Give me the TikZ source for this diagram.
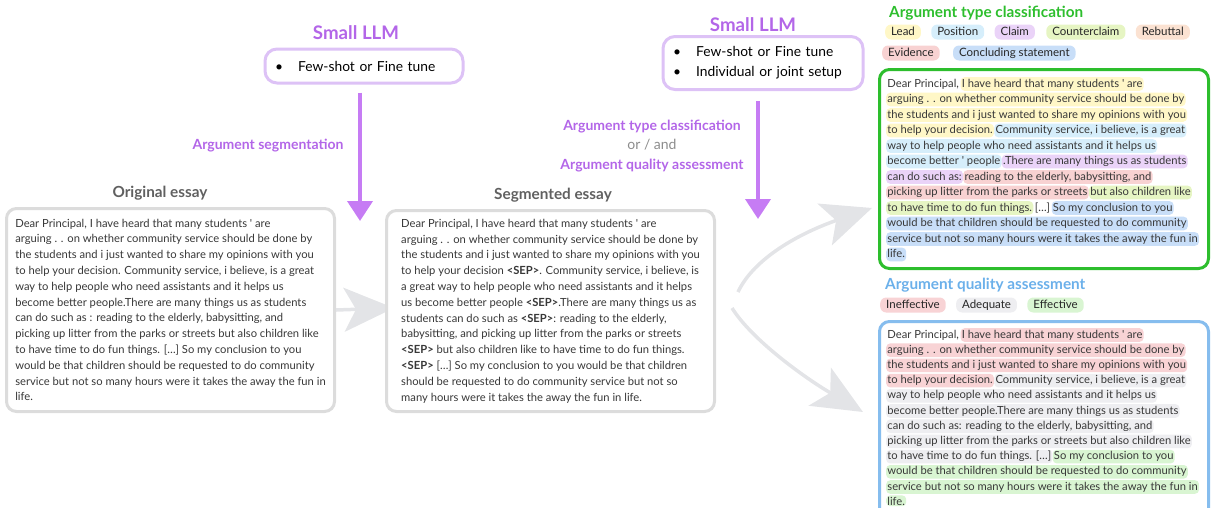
\documentclass[tikz,border=0pt]{standalone}
\usepackage{fontspec}
\setmainfont{Lato}
\usetikzlibrary{positioning,arrows.meta,calc}
\definecolor{llmtext}{HTML}{B366E8}
\definecolor{llmarrow}{HTML}{C67CF4}
\definecolor{llmframe}{HTML}{DDC2F6}
\definecolor{essaygray}{HTML}{DCDCDC}
\definecolor{titlegray}{HTML}{606060}
\definecolor{flowgray}{HTML}{E3E4E7}
\definecolor{typegreen}{HTML}{2DBE2D}
\definecolor{qualblue}{HTML}{6BB0EA}
\definecolor{qualframe}{HTML}{86BDEE}
\definecolor{inktext}{HTML}{383838}
\definecolor{lead}{HTML}{FFF7C7}
\definecolor{position}{HTML}{D6EEFB}
\definecolor{claim}{HTML}{EAD3F8}
\definecolor{counter}{HTML}{E6F5C3}
\definecolor{rebuttal}{HTML}{FBE2D2}
\definecolor{evid}{HTML}{F8D2D2}
\definecolor{concl}{HTML}{C8DEF8}
\definecolor{ineff}{HTML}{F8D3D5}
\definecolor{adeq}{HTML}{EEEEF1}
\definecolor{eff}{HTML}{D9F5D2}

\begin{document}
\begin{tikzpicture}[x=1pt,y=-1pt,
  every node/.style={font=\fontsize{11.2}{15.8}\selectfont,text=inktext,inner sep=0pt},
  llmtitle/.style={font=\fontsize{18.7}{20}\selectfont\bfseries,text=llmtext},
  llmbox/.style={draw=llmframe,line width=3pt,rounded corners=12pt,fill=white,
                 align=left,font=\fontsize{13.8}{20}\selectfont,text=black,inner xsep=10pt},
  tasklabel/.style={font=\fontsize{14}{19.5}\selectfont\bfseries,text=llmtext,align=center},
  essaytitle/.style={font=\fontsize{15.3}{16}\selectfont\bfseries,text=titlegray},
  essay/.style={draw=essaygray,line width=3pt,rounded corners=10pt,fill=white,
                align=left,anchor=north west},
  hlbox/.style={line width=3pt,rounded corners=10pt,fill=white,anchor=north west},
  seg/.style={anchor=base west,inner xsep=1.2pt,inner ysep=0pt,text height=9.8pt,
              text depth=3.8pt,rounded corners=4pt},
  chip/.style={rounded corners=6pt,inner xsep=6pt,inner ysep=1.5pt,text height=9pt,
               text depth=3pt,text=black!85,font=\fontsize{11.5}{14}\selectfont},
  llmarr/.style={-{Triangle[length=20pt,width=25pt]},line width=4pt,draw=llmarrow},
  flowarr/.style={-{Stealth[length=50pt,width=44pt,inset=12pt]},line width=3.5pt,draw=flowgray},
]
\useasboundingbox (0,0) rectangle (1213,507);
\clip (0,0) rectangle (1213,507);

% segmentation step
\node[llmtitle] (llmLtitle) at (356,33) {Small LLM};
\node[llmbox,text width=178pt,minimum height=34pt] (llmL) at (364,66)
  {\textbullet\hspace{1.1em}Few-shot or Fine tune};
\coordinate (segend) at (360,221);
\draw[llmarr,shorten <=8pt] (llmL.south -| segend) -- (segend);
\node[tasklabel] (seglabel) at (268,146) {Argument segmentation};

\node[essaytitle] (origtitle) at (160,193) {Original essay};
\node[essay,minimum width=328pt,minimum height=203pt] (orig) at (5,207) {%
Dear Principal, I have heard that many students \textquotesingle{} are\\
arguing . . on whether community service should be done by\\
the students and i just wanted to share my opinions with you\\
to help your decision. Community service, i believe, is a great\\
way to help people who need assistants and it helps us\\
become better people.There are many things us as students\\
can do such as : reading to the elderly, babysitting, and\\
picking up litter from the parks or streets but also children like\\
to have time to do fun things. […] So my conclusion to you\\
would be that children should be requested to do community\\
service but not so many hours were it takes the away the fun in\\
life.};

\coordinate (midtip) at (394,308);
\draw[flowarr] (orig.east) -- (midtip);

\node[essaytitle] (segtitle) at (553,195) {Segmented essay};
\node[essay,minimum width=328pt,minimum height=201pt] (segd) at (385,209) {%
Dear Principal, I have heard that many students \textquotesingle{} are\\
arguing . . on whether community service should be done by\\
the students and i just wanted to share my opinions with you\\
to help your decision \textbf{<SEP>}. Community service, i believe, is\\
a great way to help people who need assistants and it helps\\
us become better people \textbf{<SEP>}.There are many things us as\\
students can do such as \textbf{<SEP>}: reading to the elderly,\\
babysitting, and picking up litter from the parks or streets\\
\textbf{<SEP>} but also children like to have time to do fun things.\\
\textbf{<SEP>} […] So my conclusion to you would be that children\\
should be requested to do community service but not so\\
many hours were it takes the away the fun in life.};

% classification / quality step
\node[llmtitle] (llmRtitle) at (753,25) {Small LLM};
\node[llmbox,text width=180pt,minimum height=53pt] (llmR) at (763,63)
  {\textbullet\hspace{1.1em}Few-shot or Fine tune\\
   \textbullet\hspace{1.1em}Individual or joint setup};
\coordinate (clsend) at (758,219);
\draw[llmarr,shorten <=10pt] (llmR.south -| clsend) -- (clsend);
\node[tasklabel] (clslabel) at (652,146)
  {Argument type classification\\{\mdseries\color{black!45}or / and}\\Argument quality assessment};

\coordinate (forkup) at (738,292);
\coordinate (forkdown) at (732,308);
\coordinate (typetip) at (872,208);
\coordinate (qualtip) at (863,412);
\draw[flowarr] (forkup) .. controls (754,258) and (800,233) .. (typetip);
\draw[flowarr] (forkdown) .. controls (752,340) and (805,378) .. (qualtip);

% argument types
\node[anchor=west,font=\fontsize{15.3}{18}\selectfont\bfseries,text=typegreen] (typetitle) at (889,13) {Argument type classification};
\node[chip,fill=lead,anchor=west] (kLead) at (885,32) {Lead};
\node[chip,fill=position,right=10pt of kLead] (kPos) {Position};
\node[chip,fill=claim,right=10pt of kPos] (kClaim) {Claim};
\node[chip,fill=counter,right=11pt of kClaim] (kCounter) {Counterclaim};
\node[chip,fill=rebuttal,right=10pt of kCounter] (kReb) {Rebuttal};
\node[chip,fill=evid,anchor=west] (kEvid) at (882,53) {Evidence};
\node[chip,fill=concl,right=13pt of kEvid] (kConcl) {Concluding statement};

\node[hlbox,draw=typegreen,minimum width=329pt,minimum height=199pt] (typebox) at (878,68) {};
\node[seg] (ty1a) at (886,87) {Dear Principal,};
\node[seg,fill=lead] (ty1b) at (ty1a.base east) {I have heard that many students \textquotesingle{} are};
\node[seg,fill=lead] (ty2a) at (886,102.5) {arguing . . on whether community service should be done by};
\node[seg,fill=lead] (ty3a) at (886,118) {the students and i just wanted to share my opinions with you};
\node[seg,fill=lead] (ty4a) at (886,133.5) {to help your decision.};
\node[seg,fill=position] (ty4b) at (ty4a.base east) {Community service, i believe, is a great};
\node[seg,fill=position] (ty5a) at (886,149) {way to help people who need assistants and it helps us};
\node[seg,fill=position] (ty6a) at (886,164.5) {become better \textquotesingle{} people};
\node[seg,fill=claim] (ty6b) at (ty6a.base east) {.There are many things us as students};
\node[seg,fill=claim] (ty7a) at (886,180) {can do such as:};
\node[seg,fill=evid] (ty7b) at (ty7a.base east) {reading to the elderly, babysitting, and};
\node[seg,fill=evid] (ty8a) at (886,195.5) {picking up litter from the parks or streets};
\node[seg,fill=counter] (ty8b) at (ty8a.base east) {but also children like};
\node[seg,fill=counter] (ty9a) at (886,211) {to have time to do fun things.};
\node[seg] (ty9b) at (ty9a.base east) {[…]};
\node[seg,fill=concl] (ty9c) at (ty9b.base east) {So my conclusion to you};
\node[seg,fill=concl] (ty10a) at (886,226.5) {would be that children should be requested to do community};
\node[seg,fill=concl] (ty11a) at (886,242) {service but not so many hours were it takes the away the fun in};
\node[seg,fill=concl] (ty12a) at (886,257.5) {life.};

% argument quality
\node[anchor=west,font=\fontsize{15.3}{18}\selectfont\bfseries,text=qualblue] (qualtitle) at (885,285) {Argument quality assessment};
\node[chip,fill=ineff,anchor=west] (kIneff) at (880,305) {Ineffective};
\node[chip,fill=adeq,right=10pt of kIneff] (kAdeq) {Adequate};
\node[chip,fill=eff,right=10pt of kAdeq] (kEff) {Effective};

\node[hlbox,draw=qualframe,minimum width=329pt,minimum height=215pt] (qualbox) at (878,320) {};
\node[seg] (qa1a) at (886,338) {Dear Principal,};
\node[seg,fill=ineff] (qa1b) at (qa1a.base east) {I have heard that many students \textquotesingle{} are};
\node[seg,fill=ineff] (qa2a) at (886,353.2) {arguing . . on whether community service should be done by};
\node[seg,fill=ineff] (qa3a) at (886,368.4) {the students and i just wanted to share my opinions with you};
\node[seg,fill=ineff] (qa4a) at (886,383.6) {to help your decision.};
\node[seg,fill=adeq] (qa4b) at (qa4a.base east) {Community service, i believe, is a great};
\node[seg,fill=adeq] (qa5a) at (886,398.8) {way to help people who need assistants and it helps us};
\node[seg,fill=adeq] (qa6a) at (886,414) {become better people.There are many things us as students};
\node[seg,fill=adeq] (qa7a) at (886,429.2) {can do such as: reading to the elderly, babysitting, and};
\node[seg,fill=adeq] (qa8a) at (886,444.4) {picking up litter from the parks or streets but also children like};
\node[seg,fill=adeq] (qa9a) at (886,459.6) {to have time to do fun things. […]};
\node[seg,fill=eff] (qa9b) at (qa9a.base east) {So my conclusion to you};
\node[seg,fill=eff] (qa10a) at (886,474.8) {would be that children should be requested to do community};
\node[seg,fill=eff] (qa11a) at (886,490) {service but not so many hours were it takes the away the fun in};
\node[seg,fill=eff,text depth=1pt] (qa12a) at (886,505.2) {life.};
\end{tikzpicture}
\end{document}
